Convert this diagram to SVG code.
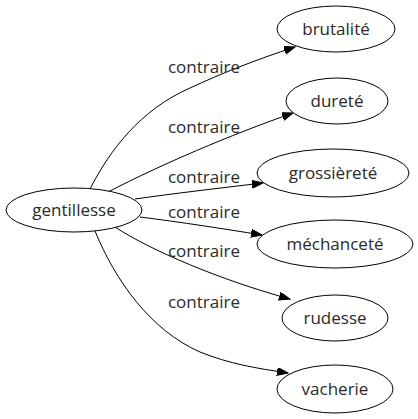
<svg xmlns="http://www.w3.org/2000/svg" width="418" height="419" viewBox="0 0 418 419">
<style>
.n ellipse{fill:#fff;stroke:#000;stroke-width:1}
text{font-family:"Open Sans","DejaVu Sans",sans-serif;font-size:17px;fill:#2a2a2a;text-anchor:middle;dominant-baseline:central}
.e path{fill:none;stroke:#000;stroke-width:1}
</style>
<defs>
<marker id="ah" markerUnits="userSpaceOnUse" markerWidth="12" markerHeight="9" refX="11" refY="4" orient="auto">
<path d="M0,0 L11,4 L0,8 z" fill="#000" stroke="#000"/>
</marker>
</defs>
<rect width="418" height="419" fill="#fff"/>
<g id="edges" class="e">
<path d="M90,189 C110,150 140,110 190,88 C220,74 255,60 295,47" marker-end="url(#ah)"/>
<path d="M108,192 C160,165 230,135 293,113" marker-end="url(#ah)"/>
<path d="M135,199 C170,194 220,188 263,183" marker-end="url(#ah)"/>
<path d="M140,217 C180,222 225,229 262,235" marker-end="url(#ah)"/>
<path d="M115,227 C150,250 220,280 290,299" marker-end="url(#ah)"/>
<path d="M95,231 C115,280 150,330 200,352 C230,364 255,368 288,373" marker-end="url(#ah)"/>
<text x="204" y="66">contraire</text>
<text x="204" y="126">contraire</text>
<text x="204" y="176">contraire</text>
<text x="204" y="211">contraire</text>
<text x="204" y="250">contraire</text>
<text x="204" y="301">contraire</text>
</g>
<g id="gentillesse" class="n"><ellipse cx="74" cy="210" rx="68" ry="22"/><text x="74" y="209">gentillesse</text></g>
<g id="brutalite" class="n"><ellipse cx="336" cy="29" rx="59" ry="23"/><text x="336" y="28">brutalité</text></g>
<g id="durete" class="n"><ellipse cx="337" cy="101" rx="51" ry="23"/><text x="337" y="100">dureté</text></g>
<g id="grossierete" class="n"><ellipse cx="333" cy="173" rx="76" ry="24"/><text x="333" y="172">grossièreté</text></g>
<g id="mechancete" class="n"><ellipse cx="335" cy="244" rx="78" ry="24"/><text x="335" y="243">méchanceté</text></g>
<g id="rudesse" class="n"><ellipse cx="335" cy="318" rx="53" ry="23"/><text x="335" y="317">rudesse</text></g>
<g id="vacherie" class="n"><ellipse cx="335" cy="389" rx="58" ry="24"/><text x="335" y="388">vacherie</text></g>
</svg>
